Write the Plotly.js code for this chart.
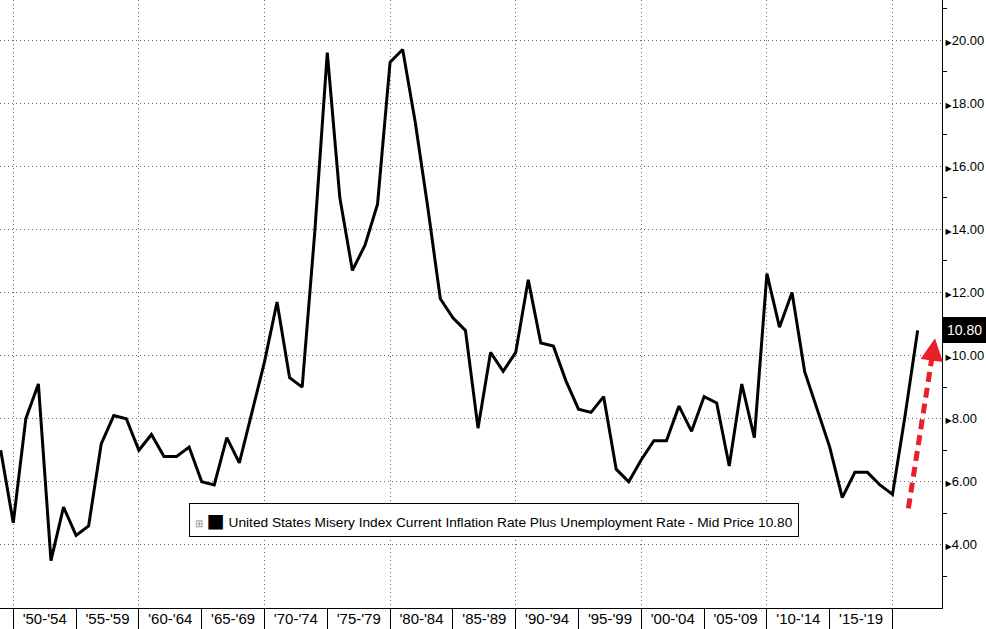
<!DOCTYPE html>
<html>
<head>
<meta charset="utf-8">
<script src="https://cdn.plot.ly/plotly-3.0.1.min.js"></script>
<style>html,body{margin:0;padding:0;background:#fff;}#chart{width:986px;height:629px;}</style>
</head>
<body>
<div id="chart"></div>
<script>
// Annual US Misery Index (inflation + unemployment), year-end values
const years = [1948,1949,1950,1951,1952,1953,1954,1955,1956,1957,1958,1959,
  1960,1961,1962,1963,1964,1965,1966,1967,1968,1969,
  1970,1971,1972,1973,1974,1975,1976,1977,1978,1979,
  1980,1981,1982,1983,1984,1985,1986,1987,1988,1989,
  1990,1991,1992,1993,1994,1995,1996,1997,1998,1999,
  2000,2001,2002,2003,2004,2005,2006,2007,2008,2009,
  2010,2011,2012,2013,2014,2015,2016,2017,2018,2019,
  2020,2021];
const misery = [7.0,4.7,8.0,9.1,3.5,5.2,4.3,4.6,7.2,8.1,8.0,7.0,
  7.5,6.8,6.8,7.1,6.0,5.9,7.4,6.6,8.2,9.8,
  11.7,9.3,9.0,13.9,19.6,15.0,12.7,13.5,14.8,19.3,
  19.7,17.4,14.7,11.8,11.2,10.8,7.7,10.1,9.5,10.1,
  12.4,10.4,10.3,9.2,8.3,8.2,8.7,6.4,6.0,6.7,
  7.3,7.3,8.4,7.6,8.7,8.5,6.5,9.1,7.4,12.6,
  10.9,12.0,9.5,8.3,7.1,5.5,6.3,6.3,5.9,5.6,
  8.1,10.8];
// 5-year period labels (bins end on Dec 31 of the last year)
const binStartYears = [1950,1955,1960,1965,1970,1975,1980,1985,1990,1995,2000,2005,2010,2015];
const binLabels = ["'50-'54","'55-'59","'60-'64","'65-'69","'70-'74","'75-'79","'80-'84",
  "'85-'89","'90-'94","'95-'99","'00-'04","'05-'09","'10-'14","'15-'19"];
const yTickVals = [4,6,8,10,12,14,16,18,20];
const seriesName = 'United States Misery Index Current Inflation Rate Plus Unemployment Rate - Mid Price';

const xDates = years.map(y => y + '-12-31');
const last = misery[misery.length - 1];

const binBounds = binStartYears.map(y => (y - 1) + '-12-31').concat(['2019-12-31']);
const decadeBounds = binBounds.filter((d, i) => i % 2 === 0);
const binMids = binStartYears.map(y => (y + 2) + '-07-02');
const yTickText = yTickVals.map(v =>
  '<span style="font-family:DejaVu Sans;font-size:8px">\u25B6</span>' + v.toFixed(2));

const FONT = 'Liberation Sans, Arial, sans-serif';
const xRange = ['1948-12-10', '2023-12-09'];
const gridCol = '#6a6a6a';
const gridDash = '1px,3px';

const traces = [
  {
    x: xDates, y: misery, type: 'scatter', mode: 'lines',
    line: {color: '#000', width: 3},
    name: seriesName, showlegend: false, hoverinfo: 'x+y'
  },
  { // carries the period-label axis (invisible)
    x: xDates, y: misery, type: 'scatter', mode: 'lines', xaxis: 'x2',
    line: {color: 'rgba(0,0,0,0)', width: 0}, opacity: 0,
    showlegend: false, hoverinfo: 'skip'
  }
];

const layout = {
  width: 986, height: 629,
  margin: {l: 0, r: 44, t: 0, b: 21, pad: 0},
  paper_bgcolor: '#fff', plot_bgcolor: '#fff',
  font: {family: FONT, color: '#000', size: 13},
  showlegend: false,
  xaxis: {
    type: 'date', range: xRange, fixedrange: true,
    tickmode: 'array', tickvals: decadeBounds, showticklabels: false,
    ticks: 'outside', ticklen: 21, tickcolor: '#000', tickwidth: 1,
    showgrid: true, gridcolor: gridCol, griddash: gridDash, gridwidth: 1,
    minor: {tickmode: 'array', tickvals: binBounds, ticks: 'outside', ticklen: 21,
            tickcolor: '#000', tickwidth: 1, showgrid: false},
    showline: true, linecolor: '#000', linewidth: 1, zeroline: false
  },
  xaxis2: {
    type: 'date', range: xRange, overlaying: 'x', matches: 'x', anchor: 'y', side: 'bottom',
    tickmode: 'array', tickvals: binMids, ticktext: binLabels,
    ticks: '', showgrid: false, showline: false, zeroline: false,
    tickfont: {family: FONT, size: 15, color: '#000'}
  },
  yaxis: {
    side: 'right', range: [2, 21.27], fixedrange: true,
    tickmode: 'array', tickvals: yTickVals, ticktext: yTickText,
    ticks: '', tickfont: {family: FONT, size: 13, color: '#000'},
    showgrid: true, gridcolor: gridCol, griddash: gridDash, gridwidth: 1,
    minor: {tickmode: 'linear', tick0: 1, dtick: 2, ticks: 'outside', ticklen: 4,
            tickcolor: '#000', tickwidth: 1, showgrid: false},
    showline: true, linecolor: '#000', linewidth: 1, zeroline: false
  },
  shapes: [{
    type: 'line', xref: 'x', yref: 'y',
    x0: '2021-04-05', y0: 5.16, x1: '2023-03-25', y1: 10.17,
    line: {color: '#e8202a', width: 5, dash: '10px,6px'}
  }],
  annotations: [
    {
      xref: 'x', yref: 'y', x: '2023-05-18', y: 10.55,
      showarrow: true, arrowhead: 2, arrowsize: 0.9, arrowwidth: 5, arrowcolor: '#e8202a',
      ax: -2, ay: 14, axref: 'pixel', ayref: 'pixel', text: ''
    },
    {
      xref: 'paper', yref: 'y', x: 1, y: last, xanchor: 'left', yanchor: 'middle',
      text: last.toFixed(2), showarrow: false,
      bgcolor: '#000', bordercolor: '#000', borderpad: 4,
      font: {family: FONT, size: 14, color: '#fff'}
    },
    {
      xref: 'paper', yref: 'paper', x: 0.524, y: 0.1447, xanchor: 'center', yanchor: 'middle',
      text: '<span style="color:#888;font-size:10px">\u229E</span> <span style="font-family:DejaVu Sans;font-size:19px">\u25A0</span> ' + seriesName + ' ' + last.toFixed(2),
      showarrow: false, bgcolor: '#fff', bordercolor: '#000', borderwidth: 1, borderpad: 5,
      font: {family: FONT, size: 13.7, color: '#000'}
    }
  ]
};

Plotly.newPlot('chart', traces, layout, {displayModeBar: false, staticPlot: true});
</script>
</body>
</html>
